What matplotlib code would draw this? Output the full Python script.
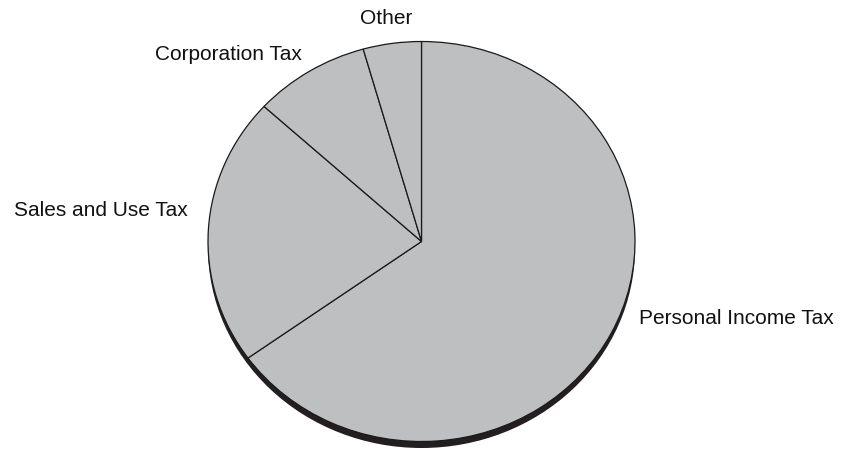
import matplotlib
matplotlib.use("Agg")
import matplotlib.pyplot as plt
from matplotlib.patches import Ellipse

categories = ["Personal Income Tax", "Sales and Use Tax", "Corporation Tax", "Other"]
shares = [65.1, 21.7, 8.8, 4.4]

W, H = 842, 449
fig = plt.figure(figsize=(W / 100, H / 100), dpi=100)
ax = fig.add_axes([0, 0, 1, 1])

cx, cy = 421.5, 241.5      # pixel centre (from top)
rx, ry = 213.5, 200.0      # pixel radii

# shadow / depth
ax.add_patch(Ellipse((0, -6.5 / ry), 2, 2, facecolor="#231f20", edgecolor="none", zorder=1))

wedges, _ = ax.pie(shares, startangle=90, counterclock=False,
                   colors=["#bebfc1"] * len(shares),
                   wedgeprops=dict(edgecolor="#1a1a1a", linewidth=0.9, zorder=2))
for w in wedges:
    w.set_zorder(2)

ax.set_aspect("auto")
ax.set_xlim(-cx / rx, (W - cx) / rx)
yb = H - cy
ax.set_ylim(-yb / ry, (H - yb) / ry)
ax.axis("off")

font = ["Liberation Sans", "DejaVu Sans"]
label_pos = {
    "Personal Income Tax": (639, 318),
    "Sales and Use Tax": (14, 211),
    "Corporation Tax": (155, 55),
    "Other": (360, 18),
}
for name in categories:
    px, py = label_pos[name]
    fig.text(px / W, 1 - py / H, name, ha="left", va="center",
             fontsize=15, family=font, color="#111111")

fig.savefig("out.png", dpi=100)
